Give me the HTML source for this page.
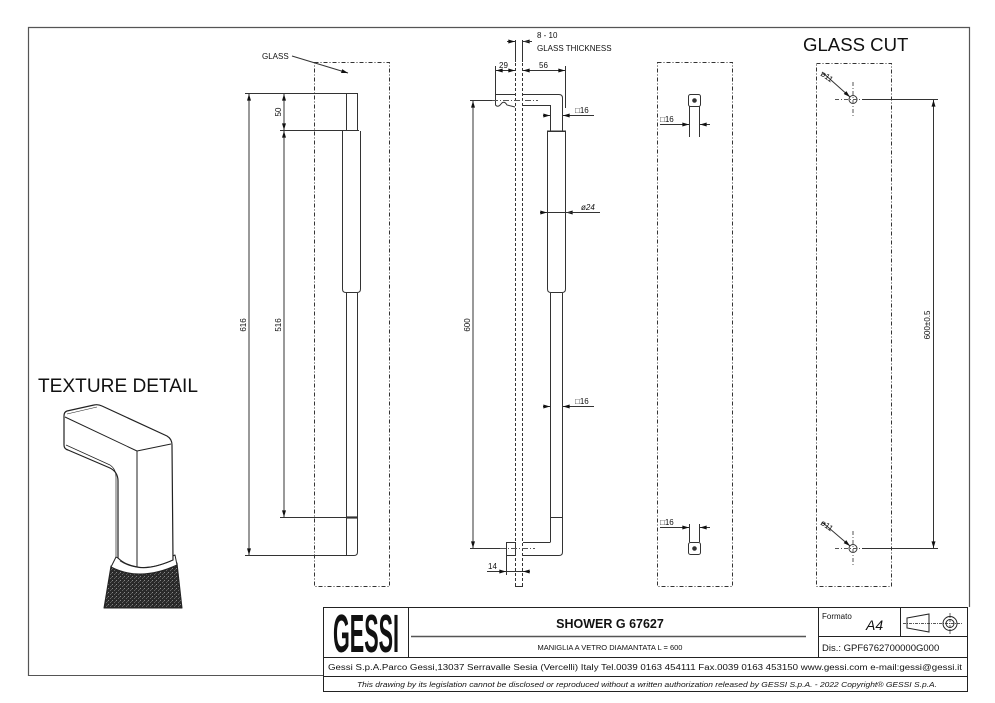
<!DOCTYPE html>
<html><head><meta charset="utf-8"><style>
html,body{margin:0;padding:0;background:#fff;}
svg{display:block;}
text{font-family:"Liberation Sans",sans-serif;fill:#111;}
</style></head><body>
<svg width="995" height="703" viewBox="0 0 995 703" xmlns="http://www.w3.org/2000/svg">
<defs>
<marker id="a" viewBox="0 0 10 6" refX="10" refY="3" markerWidth="7" markerHeight="4" orient="auto-start-reverse" markerUnits="userSpaceOnUse"><path d="M0,0 L10,3 L0,6z" fill="#111"/></marker>
<pattern id="kn" width="4" height="4" patternUnits="userSpaceOnUse"><rect width="4" height="4" fill="#2a2a2a"/><rect x="0" y="0" width="1" height="1" fill="#888"/><rect x="2" y="2" width="1" height="1" fill="#666"/><rect x="3" y="1" width="1" height="1" fill="#555"/></pattern>
</defs>
<rect width="995" height="703" fill="#fff"/>
<!-- frame -->
<path d="M28.5,676 L28.5,27.5 L969.5,27.5 L969.5,607" fill="none" stroke="#555" stroke-width="1.2"/>
<line x1="28" y1="675.5" x2="323" y2="675.5" stroke="#555"/>

<g stroke="#333" stroke-width="1" fill="none">
<!-- ===== VIEW 1 ===== -->
<rect x="314.5" y="62.5" width="75" height="524" stroke-dasharray="4,2,1,2"/>
<line x1="245" y1="93.5" x2="357" y2="93.5"/>
<line x1="346.5" y1="93" x2="346.5" y2="130"/>
<line x1="357.5" y1="93" x2="357.5" y2="130"/>
<line x1="280" y1="130.5" x2="359" y2="130.5"/>
<path d="M342.5,131 L342.5,289 Q342.5,292.5 346,292.5 L357,292.5 Q360.5,292.5 360.5,289 L360.5,131"/>
<line x1="346.5" y1="293" x2="346.5" y2="555"/>
<line x1="357.5" y1="293" x2="357.5" y2="552"/>
<line x1="280" y1="517.5" x2="358" y2="517.5"/>
<line x1="346" y1="517.5" x2="358" y2="517.5" stroke-width="2.2"/>
<path d="M245,555.5 L354,555.5 Q357.5,555.5 357.5,552"/>
<line x1="249" y1="94" x2="249" y2="555" marker-start="url(#a)" marker-end="url(#a)"/>
<line x1="284" y1="94" x2="284" y2="130" marker-start="url(#a)" marker-end="url(#a)"/>
<line x1="284" y1="131" x2="284" y2="517" marker-start="url(#a)" marker-end="url(#a)"/>
<line x1="292" y1="56" x2="348" y2="73" marker-end="url(#a)"/>

<!-- ===== VIEW 2 ===== -->
<line x1="515.5" y1="40" x2="515.5" y2="62"/>
<line x1="522.5" y1="40" x2="522.5" y2="62"/>
<line x1="515.5" y1="63" x2="515.5" y2="586" stroke-dasharray="3,2"/>
<line x1="522.5" y1="63" x2="522.5" y2="586" stroke-dasharray="3,2"/>
<line x1="515" y1="586.5" x2="523" y2="586.5"/>
<line x1="507" y1="41.5" x2="515" y2="41.5" marker-end="url(#a)"/>
<line x1="532" y1="41.5" x2="523" y2="41.5" marker-end="url(#a)"/>
<line x1="523" y1="41.5" x2="532" y2="41.5"/>
<line x1="495.5" y1="66" x2="495.5" y2="94"/>
<line x1="565.5" y1="66" x2="565.5" y2="108"/>
<line x1="496" y1="70.5" x2="515" y2="70.5" marker-start="url(#a)" marker-end="url(#a)"/>
<line x1="523" y1="70.5" x2="565" y2="70.5" marker-start="url(#a)" marker-end="url(#a)"/>
<!-- top stub -->
<path d="M515,94.5 L495.5,94.5 L495.5,105 Q498,108 501,104 Q504,100 507,105 L515,107"/>
<line x1="492" y1="100.5" x2="538" y2="100.5" stroke-dasharray="6,2,1,2" stroke="#555"/>
<!-- arm -->
<path d="M523,94.5 L559,94.5 Q562.5,94.5 562.5,98 L562.5,131"/>
<path d="M523,105.5 L550.5,105.5 L550.5,131"/>
<path d="M547.5,131 L547.5,289 Q547.5,292.5 551,292.5 L562,292.5 Q565.5,292.5 565.5,289 L565.5,131 Z"/>
<line x1="547.5" y1="131.5" x2="565.5" y2="131.5"/>
<line x1="550.5" y1="293" x2="550.5" y2="542"/>
<line x1="562.5" y1="293" x2="562.5" y2="552"/>
<line x1="550" y1="517.5" x2="562" y2="517.5"/>
<path d="M523,542.5 L550.5,542.5"/>
<path d="M523,555.5 L559,555.5 Q562.5,555.5 562.5,552"/>
<rect x="506.5" y="542.5" width="9" height="13"/>
<line x1="500" y1="548.5" x2="535" y2="548.5" stroke-dasharray="6,2,1,2" stroke="#555"/>
<line x1="506.5" y1="556" x2="506.5" y2="575"/>
<line x1="487" y1="571.5" x2="506" y2="571.5" marker-end="url(#a)"/>
<line x1="530" y1="571.5" x2="523" y2="571.5" marker-end="url(#a)"/>
<line x1="506" y1="571.5" x2="523" y2="571.5"/>
<line x1="473" y1="101" x2="473" y2="548" marker-start="url(#a)" marker-end="url(#a)"/>
<line x1="470" y1="100.5" x2="492" y2="100.5"/>
<line x1="470" y1="548.5" x2="500" y2="548.5"/>
<!-- sq16 top -->
<line x1="543" y1="115.5" x2="550" y2="115.5" marker-end="url(#a)"/>
<line x1="575" y1="115.5" x2="563" y2="115.5" marker-end="url(#a)"/>
<line x1="575" y1="115.5" x2="594" y2="115.5"/>
<!-- dia 24 -->
<line x1="540" y1="212.5" x2="547" y2="212.5" marker-end="url(#a)"/>
<line x1="574" y1="212.5" x2="566" y2="212.5" marker-end="url(#a)"/>
<line x1="547" y1="212.5" x2="600" y2="212.5"/>
<!-- sq16 mid -->
<line x1="543" y1="406.5" x2="550" y2="406.5" marker-end="url(#a)"/>
<line x1="570" y1="406.5" x2="563" y2="406.5" marker-end="url(#a)"/>
<line x1="570" y1="406.5" x2="594" y2="406.5"/>

<!-- ===== VIEW 3 ===== -->
<rect x="657.5" y="62.5" width="75" height="524" stroke-dasharray="4,2,1,2"/>
<rect x="688.5" y="94.5" width="12" height="12" rx="2"/>
<circle cx="694.5" cy="100.5" r="1.8" fill="#333"/>
<line x1="689.5" y1="106" x2="689.5" y2="137"/>
<line x1="699.5" y1="106" x2="699.5" y2="137"/>
<line x1="660" y1="124.5" x2="689" y2="124.5" marker-end="url(#a)"/>
<line x1="710" y1="124.5" x2="700" y2="124.5" marker-end="url(#a)"/>
<rect x="688.5" y="542.5" width="12" height="12" rx="2"/>
<circle cx="694.5" cy="548.5" r="1.8" fill="#333"/>
<line x1="689.5" y1="524" x2="689.5" y2="542"/>
<line x1="699.5" y1="524" x2="699.5" y2="542"/>
<line x1="660" y1="527.5" x2="689" y2="527.5" marker-end="url(#a)"/>
<line x1="710" y1="527.5" x2="700" y2="527.5" marker-end="url(#a)"/>

<!-- ===== VIEW 4 GLASS CUT ===== -->
<rect x="816.5" y="63.5" width="75" height="523" stroke-dasharray="4,2,1,2"/>
<circle cx="853" cy="99.5" r="4"/>
<line x1="835" y1="99.5" x2="868" y2="99.5" stroke-dasharray="4,2,1,2" stroke="#555"/>
<line x1="853" y1="82" x2="853" y2="116" stroke-dasharray="4,2,1,2" stroke="#555"/>
<line x1="862" y1="99.5" x2="938" y2="99.5"/>
<line x1="822" y1="72" x2="850" y2="97" marker-end="url(#a)"/>
<circle cx="853" cy="548.5" r="4"/>
<line x1="835" y1="548.5" x2="868" y2="548.5" stroke-dasharray="4,2,1,2" stroke="#555"/>
<line x1="853" y1="531" x2="853" y2="566" stroke-dasharray="4,2,1,2" stroke="#555"/>
<line x1="862" y1="548.5" x2="938" y2="548.5"/>
<line x1="822" y1="522" x2="850" y2="546" marker-end="url(#a)"/>
<line x1="933.5" y1="100" x2="933.5" y2="548" marker-start="url(#a)" marker-end="url(#a)"/>
</g>

<!-- texts views -->
<g font-size="8">
<text x="262" y="59">GLASS</text>
<text transform="translate(246,325) rotate(-90)" text-anchor="middle">616</text>
<text transform="translate(281,325) rotate(-90)" text-anchor="middle">516</text>
<text transform="translate(281,112) rotate(-90)" text-anchor="middle">50</text>
<text transform="translate(470,325) rotate(-90)" text-anchor="middle">600</text>
<text transform="translate(930,325) rotate(-90)" text-anchor="middle">600±0.5</text>
<text x="537" y="38">8 - 10</text>
<text x="537" y="51">GLASS THICKNESS</text>
<text x="499" y="68">29</text>
<text x="539" y="68">56</text>
<text x="575" y="113">□16</text>
<text x="581" y="210" font-style="italic">ø24</text>
<text x="575" y="404">□16</text>
<text x="660" y="122">□16</text>
<text x="660" y="525">□16</text>
<text x="488" y="569">14</text>
<text transform="translate(820,75) rotate(35)">ø11</text>
<text transform="translate(820,524) rotate(35)">ø11</text>
</g>
<text x="803" y="51" font-size="18.6">GLASS CUT</text>
<text x="38" y="392" font-size="19" textLength="160" lengthAdjust="spacingAndGlyphs">TEXTURE DETAIL</text>

<!-- texture detail drawing -->
<g stroke="#222" stroke-width="1" stroke-linejoin="round">
<path d="M111,566 Q140,580 177,563 L182,608 L104,608 Z" fill="url(#kn)"/>
<path d="M116,557 Q140,571 175,555 L177,565 Q140,582 111,567 Z" fill="#fff"/>
<path d="M67,411 L94,405 Q98,404 102,406 L167,436 Q172,439 172,445 L173,560 Q150,570 137,567 Q125,565 118,558 L118,481 Q118,472 110,468 L68,450 Q64,449 64,445 L64,416 Q64,412 67,411 Z" fill="#fff" stroke-width="1.2"/>
<path d="M65,417 L137,451 L171,444" fill="none"/>
<path d="M67,414 L97,407" fill="none" stroke-width="0.6"/>
<line x1="137" y1="451" x2="137" y2="567"/>
<path d="M66,445 L110,465 Q116,469 116,477 L116,557" fill="none" stroke-width="0.7"/>
<path d="M120,561 Q140,574 171,561" fill="none" stroke-width="0.7"/>
</g>

<!-- ===== TITLE BLOCK ===== -->
<g stroke="#222" stroke-width="1" fill="none">
<rect x="323.5" y="607.5" width="644" height="84"/>
<line x1="408.5" y1="607" x2="408.5" y2="657"/>
<line x1="818.5" y1="607" x2="818.5" y2="657"/>
<line x1="900.5" y1="607" x2="900.5" y2="636"/>
<line x1="818" y1="636.5" x2="968" y2="636.5"/>
<line x1="323" y1="657.5" x2="968" y2="657.5"/>
<line x1="323" y1="676.5" x2="968" y2="676.5"/>
<line x1="411" y1="636.5" x2="806" y2="636.5" stroke="#555" stroke-width="1.4"/>
<!-- projection symbol -->
<path d="M907,618 L929,614 L929,632 L907,628 Z"/>
<line x1="903" y1="623.5" x2="963" y2="623.5" stroke-dasharray="3,1,1,1" stroke-width="0.7"/>
<circle cx="950" cy="623.5" r="7"/>
<circle cx="950" cy="623.5" r="4"/>
<line x1="950" y1="613" x2="950" y2="634" stroke-dasharray="3,1,1,1" stroke-width="0.7"/>
</g>
<text x="333" y="652" font-size="54" font-weight="bold" textLength="66" lengthAdjust="spacingAndGlyphs">GESSI</text>
<text x="610" y="628" font-size="12.5" font-weight="bold" text-anchor="middle">SHOWER G 67627</text>
<text x="610" y="650" font-size="7.5" text-anchor="middle">MANIGLIA A VETRO DIAMANTATA L = 600</text>
<text x="822" y="619" font-size="8">Formato</text>
<text x="866" y="630" font-size="14" font-style="italic">A4</text>
<text x="822" y="651" font-size="9.5">Dis.: GPF6762700000G000</text>
<text x="328" y="670" font-size="8" textLength="634" lengthAdjust="spacingAndGlyphs">Gessi S.p.A.Parco Gessi,13037 Serravalle Sesia (Vercelli) Italy Tel.0039 0163 454111 Fax.0039 0163 453150 www.gessi.com e-mail:gessi@gessi.it</text>
<text x="357" y="687" font-size="7" font-style="italic" textLength="580" lengthAdjust="spacingAndGlyphs">This drawing by its legislation cannot be disclosed or reproduced without a written authorization released by GESSI S.p.A. - 2022 Copyright® GESSI S.p.A.</text>
</svg>
</body></html>
